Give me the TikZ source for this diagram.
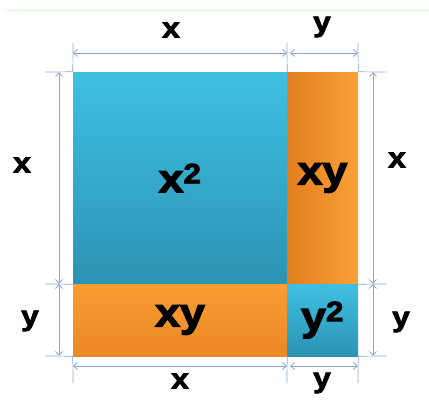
\documentclass[tikz,border=0pt]{standalone}
\usepackage{fontspec}
\setmainfont{Liberation Sans}[BoldFeatures={FakeBold=3,FakeStretch=1.12}]
\usetikzlibrary{arrows.meta}
\definecolor{dimc}{HTML}{8AA6D6}
\definecolor{bluetop}{HTML}{3EC0E3}
\definecolor{bluebot}{HTML}{2C93B3}
\definecolor{orgdark}{HTML}{E27E1E}
\definecolor{orglight}{HTML}{FBA136}
\definecolor{orgtop}{HTML}{FA9D32}
\definecolor{orgbot}{HTML}{EC8826}
\begin{document}
\begin{tikzpicture}[x=1pt,y=-1pt,
  blk/.style={draw=none,inner sep=0pt,font=\bfseries\fontsize{40}{40}\selectfont},
  bluesq/.style={blk,top color=bluetop,bottom color=bluebot},
  orgv/.style={blk,left color=orgdark,right color=orglight},
  orgh/.style={blk,top color=orgtop,bottom color=orgbot},
  lab/.style={font=\bfseries\fontsize{28}{28}\selectfont,inner sep=0pt},
  dim/.style={draw=dimc,line width=0.8pt,{Straight Barb[length=4pt,width=7pt]}-{Straight Barb[length=4pt,width=7pt]}},
  ext/.style={draw=dimc,line width=0.7pt}]
\useasboundingbox (0,0) rectangle (429,400);
\draw[green!15,line width=0.8pt] (5,10) -- (429,10);
% blocks
\node[bluesq,minimum width=214pt,minimum height=212pt] (A) at (180,178) {x\textsuperscript{2}};
\node[orgv,minimum width=71pt,minimum height=212pt] (B) at (322.5,178) {xy};
\node[orgh,minimum width=214pt,minimum height=72pt] (C) at (180,320) {xy};
\node[bluesq,minimum width=71pt,minimum height=72pt] (D) at (322.5,320) {y\textsuperscript{2}};
% extension lines top
\coordinate (t1) at (73,43); \coordinate (t2) at (287,43); \coordinate (t3) at (358,43);
\draw[ext] (t1) -- (A.north west);
\draw[ext] (t2) -- (A.north east);
\draw[ext] (t3) -- (B.north east);
% bottom
\coordinate (b1) at (73,383); \coordinate (b2) at (287,383); \coordinate (b3) at (358,383);
\draw[ext] (C.south west) -- (b1);
\draw[ext] (C.south east) -- (b2);
\draw[ext] (D.south east) -- (b3);
% left
\coordinate (l1) at (45,72); \coordinate (l2) at (45,284); \coordinate (l3) at (45,356);
\draw[ext] (l1) -- (A.north west);
\draw[ext] (l2) -- (A.south west);
\draw[ext] (l3) -- (C.south west);
% right
\coordinate (r1) at (387,72); \coordinate (r2) at (387,284); \coordinate (r3) at (387,356);
\draw[ext] (B.north east) -- (r1);
\draw[ext] (B.south east) -- (r2);
\draw[ext] (D.south east) -- (r3);
% dimension arrows
\coordinate (ta) at (73,53); \coordinate (tb) at (287,53);
\coordinate (tc) at (290,53); \coordinate (td) at (358,53);
\draw[dim] (ta) -- (tb);
\draw[dim] (tc) -- (td);
\coordinate (ba) at (73,366); \coordinate (bb) at (287,366);
\coordinate (bc) at (290,366); \coordinate (bd) at (358,366);
\draw[dim] (ba) -- (bb);
\draw[dim] (bc) -- (bd);
\coordinate (la) at (59,72); \coordinate (lb) at (59,284); \coordinate (lc) at (59,356);
\draw[dim] (la) -- (lb);
\draw[dim] (lb) -- (lc);
\coordinate (ra) at (373,72); \coordinate (rb) at (373,284); \coordinate (rc) at (373,356);
\draw[dim] (ra) -- (rb);
\draw[dim] (rb) -- (rc);
% labels
\node[lab] (lx1) at (171,30) {x};
\node[lab] (ly1) at (322,27) {y};
\node[lab] (lx2) at (22,165) {x};
\node[lab] (lx3) at (397,160) {x};
\node[lab] (ly2) at (30,321) {y};
\node[lab] (ly3) at (401,322) {y};
\node[lab] (lx4) at (180,381) {x};
\node[lab] (ly4) at (322,383) {y};
\end{tikzpicture}
\end{document}
